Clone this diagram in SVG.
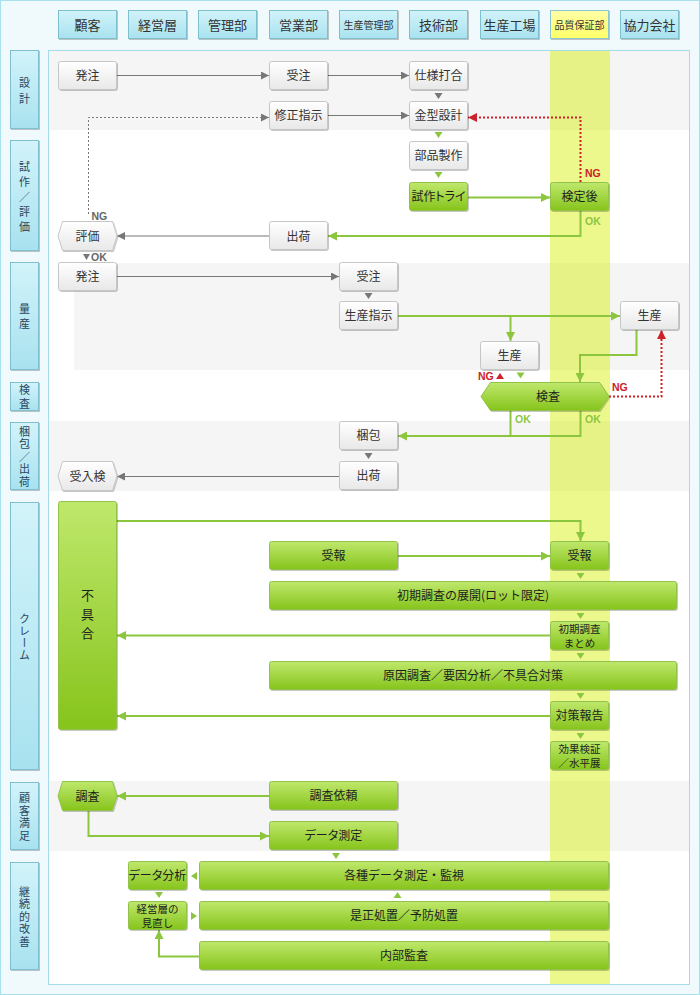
<svg xmlns="http://www.w3.org/2000/svg" width="700" height="995" viewBox="0 0 700 995">
<defs>
<linearGradient id="gW" x1="0" y1="0" x2="0" y2="1"><stop offset="0" stop-color="#ffffff"/><stop offset="1" stop-color="#e8e8e8"/></linearGradient>
<linearGradient id="gG" x1="0" y1="0" x2="0" y2="1"><stop offset="0" stop-color="#bfe86c"/><stop offset="1" stop-color="#86c41c"/></linearGradient>
<linearGradient id="gH" x1="0" y1="0" x2="0" y2="1"><stop offset="0" stop-color="#d2f3fa"/><stop offset="1" stop-color="#a8e2ef"/></linearGradient>
<linearGradient id="gY" x1="0" y1="0" x2="0" y2="1"><stop offset="0" stop-color="#ffffa8"/><stop offset="1" stop-color="#ffff66"/></linearGradient>
<filter id="sh" x="-10%" y="-10%" width="130%" height="140%"><feDropShadow dx="1" dy="1" stdDeviation="0.7" flood-color="#000" flood-opacity="0.22"/></filter>
<marker id="aGray" viewBox="0 0 8 8" refX="8" refY="4" markerWidth="8" markerHeight="8" markerUnits="userSpaceOnUse" orient="auto"><path d="M0,0 L8,4 L0,8z" fill="#777"/></marker>
<marker id="aGreen" viewBox="0 0 9 9" refX="9" refY="4.5" markerWidth="9" markerHeight="9" markerUnits="userSpaceOnUse" orient="auto"><path d="M0,0 L9,4.5 L0,9z" fill="#8cc63f"/></marker>
<marker id="aRed" viewBox="0 0 9 9" refX="9" refY="4.5" markerWidth="9" markerHeight="9" markerUnits="userSpaceOnUse" orient="auto"><path d="M0,0 L9,4.5 L0,9z" fill="#cc2229"/></marker>
<style>
text{font-family:"Noto Sans CJK JP","Noto Sans",sans-serif;}
text.p{font-feature-settings:"palt";}
.hd rect{fill:url(#gH);stroke:#7fc0cf;stroke-width:1;filter:url(#sh);}
.hd text{font-size:13px;fill:#333;text-anchor:middle;}
.hd text.sm{font-size:10px;}
.hd rect.yl{fill:url(#gY);stroke:#8ec6cf;}
.ph rect{fill:url(#gH);stroke:#7fbfcf;stroke-width:1;filter:url(#sh);}
.ph text{font-size:11px;fill:#2b4660;text-anchor:middle;writing-mode:vertical-rl;}
.nw rect,.nw polygon{fill:url(#gW);stroke:#c6c6c6;stroke-width:1;filter:url(#sh);}
.ng rect,.ng polygon{fill:url(#gG);stroke:#93c24c;stroke-width:1;filter:url(#sh);}
.nw text{font-size:12px;fill:#333;text-anchor:middle;}
.ng text{font-size:12px;fill:#1e1e1e;text-anchor:middle;}
.ng text.s2{font-size:10.5px;}
.ng text.vt{font-size:13px;writing-mode:vertical-rl;}
.lgy{fill:none;stroke:#777;stroke-width:1;}
.ldot{fill:none;stroke:#777;stroke-width:1;stroke-dasharray:2 2;}
.lgr{fill:none;stroke:#8cc63f;stroke-width:2;}
.lred{fill:none;stroke:#cc2229;stroke-width:2;stroke-dasharray:2 2;}
.tgy{fill:#777;}
.tgr{fill:#8cc63f;}
.tred{fill:#cc2229;}
.lb{font-family:"Liberation Sans",Arial,sans-serif;font-size:10.5px;font-weight:bold;}
.lb.r{fill:#cc2229;}
.lb.g{fill:#8cc63f;}
.lb.k{fill:#666;}
</style>
</defs>

<!-- background -->
<rect x="0.5" y="0.5" width="699" height="994" fill="#f0fafd" stroke="#a8e0ec"/>
<rect x="48.5" y="50.5" width="641" height="934" fill="#ffffff" stroke="#a5dbe7"/>
<!-- gray bands -->
<rect x="49" y="51" width="640" height="79" fill="#f5f5f5"/>
<rect x="74" y="263" width="615" height="107" fill="#f5f5f5"/>
<rect x="49" y="421" width="640" height="70" fill="#f5f5f5"/>
<rect x="49" y="781" width="640" height="70" fill="#f5f5f5"/>
<!-- quality column band -->
<rect x="550" y="51" width="60" height="933" fill="#d8f000" fill-opacity="0.45"/>

<!-- headers -->
<g id="headers">
<g id="h-kokyaku" class="hd"><rect x="58.5" y="10.5" width="58" height="28"/><text x="87.5" y="29.5">顧客</text></g>
<g id="h-keiei" class="hd"><rect x="128.5" y="10.5" width="58" height="28"/><text x="157.5" y="29.5">経営層</text></g>
<g id="h-kanri" class="hd"><rect x="198.5" y="10.5" width="58" height="28"/><text x="227.5" y="29.5">管理部</text></g>
<g id="h-eigyo" class="hd"><rect x="269.5" y="10.5" width="58" height="28"/><text x="298.5" y="29.5">営業部</text></g>
<g id="h-seikan" class="hd"><rect x="339.5" y="10.5" width="58" height="28"/><text class="sm" x="368.5" y="28.5">生産管理部</text></g>
<g id="h-gijutsu" class="hd"><rect x="409.5" y="10.5" width="58" height="28"/><text x="438.5" y="29.5">技術部</text></g>
<g id="h-kojo" class="hd"><rect x="480.5" y="10.5" width="58" height="28"/><text x="509.5" y="29.5">生産工場</text></g>
<g id="h-hinsho" class="hd"><rect class="yl" x="550.5" y="10.5" width="58" height="28"/><text class="sm" x="579.5" y="28.5">品質保証部</text></g>
<g id="h-kyoryoku" class="hd"><rect x="620.5" y="10.5" width="58" height="28"/><text x="649.5" y="29.5">協力会社</text></g>
</g>

<!-- phase labels -->
<g id="phases">
<g id="p-sekkei" class="ph"><rect x="10.5" y="50.5" width="28" height="78"/><text x="24.5" y="93" letter-spacing="5">設計</text></g>
<g id="p-shisaku" class="ph"><rect x="10.5" y="140.5" width="28" height="110"/><text x="24.5" y="199" letter-spacing="4">試作／評価</text></g>
<g id="p-ryosan" class="ph"><rect x="10.5" y="262.5" width="28" height="107"/><text x="24.5" y="318.5" letter-spacing="4">量産</text></g>
<g id="p-kensa" class="ph"><rect x="10.5" y="382.5" width="28" height="28"/><text x="24.5" y="398" letter-spacing="2.5">検査</text></g>
<g id="p-konpo" class="ph"><rect x="10.5" y="422.5" width="28" height="67"/><text x="24.5" y="457.5" letter-spacing="1.5">梱包／出荷</text></g>
<g id="p-claim" class="ph"><rect x="10.5" y="502.5" width="28" height="267"/><text x="24.5" y="637" letter-spacing="1">クレーム</text></g>
<g id="p-manzoku" class="ph"><rect x="10.5" y="782.5" width="28" height="67"/><text x="24.5" y="817.5" letter-spacing="1.5">顧客満足</text></g>
<g id="p-kaizen" class="ph"><rect x="10.5" y="862.5" width="28" height="107"/><text x="24.5" y="917.5" letter-spacing="1.5">継続的改善</text></g>
</g>

<!-- connectors -->
<g id="connectors">
<path class="lgy" d="M117,75.5 H269" marker-end="url(#aGray)"/>
<path class="lgy" d="M328,75.5 H409" marker-end="url(#aGray)"/>
<polygon class="tgy" points="434.5,93 442.5,93 438.5,99"/>
<path class="lgy" d="M328,115.5 H409" marker-end="url(#aGray)"/>
<path class="ldot" d="M88.5,214 V117.5 H269" marker-end="url(#aGray)"/>
<path class="lred" d="M580.5,182 V117.5 H468" marker-end="url(#aRed)"/>
<text class="lb r" x="585" y="177">NG</text>
<polygon class="tgr" points="434.5,132 442.5,132 438.5,138"/>
<polygon class="tgr" points="434.5,172 442.5,172 438.5,178"/>
<path class="lgr" d="M468,197.5 H550" marker-end="url(#aGreen)"/>
<path class="lgr" d="M580.5,211 V236 H328" marker-end="url(#aGreen)"/>
<text class="lb g" x="585" y="225">OK</text>
<path class="lgy" d="M269,236 H117" marker-end="url(#aGray)"/>
<text class="lb k" x="91.5" y="220">NG</text>
<polygon class="tgy" points="83,254 90,254 86.5,260"/>
<text class="lb k" x="91" y="260.5">OK</text>

<path class="lgy" d="M117,276.5 H339" marker-end="url(#aGray)"/>
<polygon class="tgy" points="364.5,293 372.5,293 368.5,299"/>
<path class="lgr" d="M398,316 H620" marker-end="url(#aGreen)"/>
<path class="lgr" d="M510.5,316 V341" marker-end="url(#aGreen)"/>
<path class="lgr" d="M636.5,330 V355 H580 V382" marker-end="url(#aGreen)"/>
<polygon class="tgr" points="516.5,372.5 524.5,372.5 520.5,378.5"/>
<text class="lb r" x="478" y="379.5">NG</text>
<polygon class="tred" points="496,379 504,379 500,373"/>
<path class="lred" d="M609,396.5 H661.5 V330" marker-end="url(#aRed)"/>
<text class="lb r" x="612" y="391">NG</text>
<path class="lgr" d="M580.5,411 V436 H398" marker-end="url(#aGreen)"/>
<path class="lgr" d="M510.5,411 V436"/>
<text class="lb g" x="515" y="423">OK</text>
<text class="lb g" x="585" y="423">OK</text>
<polygon class="tgy" points="364.5,453 372.5,453 368.5,459"/>
<path class="lgy" d="M339,476.5 H117" marker-end="url(#aGray)"/>

<path class="lgr" d="M117,521 H580.5 V541" marker-end="url(#aGreen)"/>
<path class="lgr" d="M398,556 H550" marker-end="url(#aGreen)"/>
<polygon class="tgr" points="576.5,573 584.5,573 580.5,579"/>
<polygon class="tgr" points="576.5,613 584.5,613 580.5,619"/>
<path class="lgr" d="M550,635.5 H117" marker-end="url(#aGreen)"/>
<polygon class="tgr" points="576.5,653 584.5,653 580.5,659"/>
<polygon class="tgr" points="576.5,693 584.5,693 580.5,699"/>
<path class="lgr" d="M550,716 H117" marker-end="url(#aGreen)"/>
<polygon class="tgr" points="576.5,733 584.5,733 580.5,739"/>

<path class="lgr" d="M269,796 H117" marker-end="url(#aGreen)"/>
<path class="lgr" d="M88.5,810 V836 H269" marker-end="url(#aGreen)"/>
<polygon class="tgr" points="332,853 340,853 336,859"/>
<polygon class="tgr" points="197,872 197,880 191,876"/>
<polygon class="tgr" points="155,892 163,892 159,898"/>
<polygon class="tgr" points="191,912 191,920 197,916"/>
<polygon class="tgr" points="393.5,898 401.5,898 397.5,892"/>
<path class="lgr" d="M199,956.5 H159 V930" marker-end="url(#aGreen)"/>
</g>

<!-- nodes: design -->
<g id="n-hatchu1" class="nw"><rect x="58.5" y="61.5" width="58" height="28" rx="2"/><text x="87.5" y="80">発注</text></g>
<g id="n-juchu1" class="nw"><rect x="269.5" y="61.5" width="58" height="28" rx="2"/><text x="298.5" y="80">受注</text></g>
<g id="n-shiyou" class="nw"><rect x="409.5" y="61.5" width="58" height="28" rx="2"/><text x="438.5" y="80">仕様打合</text></g>
<g id="n-shusei" class="nw"><rect x="269.5" y="101.5" width="58" height="28" rx="2"/><text x="298.5" y="120">修正指示</text></g>
<g id="n-kanagata" class="nw"><rect x="409.5" y="101.5" width="58" height="28" rx="2"/><text x="438.5" y="120">金型設計</text></g>
<g id="n-buhin" class="nw"><rect x="409.5" y="141.5" width="58" height="28" rx="2"/><text x="438.5" y="160">部品製作</text></g>
<g id="n-shisaku" class="ng"><rect x="409.5" y="182.5" width="58" height="28" rx="2"/><text class="p" x="438.5" y="201">試作トライ</text></g>
<g id="n-kentei" class="ng"><rect x="550.5" y="182.5" width="58" height="28" rx="2"/><text x="579.5" y="201">検定後</text></g>
<g id="n-hyouka" class="nw"><polygon points="58,236 62.5,221.5 112.5,221.5 117,236 112.5,250.5 62.5,250.5"/><text x="87.5" y="240.5">評価</text></g>
<g id="n-shukka1" class="nw"><rect x="269.5" y="221.5" width="58" height="28" rx="2"/><text x="298.5" y="240.5">出荷</text></g>

<!-- nodes: mass production -->
<g id="n-hatchu2" class="nw"><rect x="58.5" y="262.5" width="58" height="28" rx="2"/><text x="87.5" y="281">発注</text></g>
<g id="n-juchu2" class="nw"><rect x="339.5" y="262.5" width="58" height="28" rx="2"/><text x="368.5" y="281">受注</text></g>
<g id="n-seisanshiji" class="nw"><rect x="339.5" y="301.5" width="58" height="28" rx="2"/><text x="368.5" y="320">生産指示</text></g>
<g id="n-seisan-kyoryoku" class="nw"><rect x="620.5" y="301.5" width="58" height="28" rx="2"/><text x="649.5" y="320">生産</text></g>
<g id="n-seisan-kojo" class="nw"><rect x="480.5" y="341.5" width="58" height="28" rx="2"/><text x="509.5" y="360">生産</text></g>
<g id="n-kensa" class="ng"><polygon points="481,396.5 490.5,382.5 599.5,382.5 609,396.5 599.5,410.5 490.5,410.5"/><text x="548" y="401">検査</text></g>
<g id="n-konpou" class="nw"><rect x="339.5" y="421.5" width="58" height="28" rx="2"/><text x="368.5" y="440">梱包</text></g>
<g id="n-shukka2" class="nw"><rect x="339.5" y="461.5" width="58" height="28" rx="2"/><text x="368.5" y="480">出荷</text></g>
<g id="n-ukeire" class="nw"><polygon points="58,476 62.5,461.5 112.5,461.5 117,476 112.5,490.5 62.5,490.5"/><text x="87.5" y="480.5">受入検</text></g>

<!-- nodes: claim -->
<g id="n-fuguai" class="ng"><rect x="58.5" y="501.5" width="58" height="228" rx="2"/><text class="vt" x="87.5" y="617" letter-spacing="6">不具合</text></g>
<g id="n-juhou1" class="ng"><rect x="269.5" y="541.5" width="128" height="28" rx="2"/><text x="333.5" y="560">受報</text></g>
<g id="n-juhou2" class="ng"><rect x="550.5" y="541.5" width="58" height="28" rx="2"/><text x="579.5" y="560">受報</text></g>
<g id="n-shoki" class="ng"><rect x="269.5" y="581.5" width="407" height="28" rx="2"/><text x="473" y="600">初期調査の展開(ロット限定)</text></g>
<g id="n-matome" class="ng"><rect x="550.5" y="621.5" width="58" height="28" rx="2"/><text class="s2"><tspan x="579.5" y="633">初期調査</tspan><tspan x="579.5" y="646.5">まとめ</tspan></text></g>
<g id="n-genin" class="ng"><rect x="269.5" y="661.5" width="407" height="28" rx="2"/><text x="473" y="680">原因調査／要因分析／不具合対策</text></g>
<g id="n-taisaku" class="ng"><rect x="550.5" y="701.5" width="58" height="28" rx="2"/><text x="579.5" y="720">対策報告</text></g>
<g id="n-kouka" class="ng"><rect x="550.5" y="741.5" width="58" height="28" rx="2"/><text class="s2"><tspan x="579.5" y="753">効果検証</tspan><tspan x="579.5" y="766.5">／水平展</tspan></text></g>

<!-- nodes: customer satisfaction -->
<g id="n-chousa" class="ng"><polygon points="58,796 62.5,781.5 112.5,781.5 117,796 112.5,810.5 62.5,810.5"/><text x="87.5" y="800.5">調査</text></g>
<g id="n-irai" class="ng"><rect x="269.5" y="781.5" width="128" height="28" rx="2"/><text x="333.5" y="800">調査依頼</text></g>
<g id="n-data" class="ng"><rect x="269.5" y="821.5" width="128" height="28" rx="2"/><text class="p" x="333.5" y="840">データ測定</text></g>

<!-- nodes: continuous improvement -->
<g id="n-bunseki" class="ng"><rect x="128.5" y="861.5" width="58" height="28" rx="2"/><text class="p" x="157.5" y="880">データ分析</text></g>
<g id="n-kakushu" class="ng"><rect x="199.5" y="861.5" width="409" height="28" rx="2"/><text x="404" y="880">各種データ測定・監視</text></g>
<g id="n-minaoshi" class="ng"><rect x="128.5" y="901.5" width="58" height="28" rx="2"/><text class="s2"><tspan x="157.5" y="913">経営層の</tspan><tspan x="157.5" y="926.5">見直し</tspan></text></g>
<g id="n-zesei" class="ng"><rect x="199.5" y="901.5" width="409" height="28" rx="2"/><text x="404" y="920">是正処置／予防処置</text></g>
<g id="n-kansa" class="ng"><rect x="199.5" y="941.5" width="409" height="28" rx="2"/><text x="404" y="960">内部監査</text></g>
</svg>
